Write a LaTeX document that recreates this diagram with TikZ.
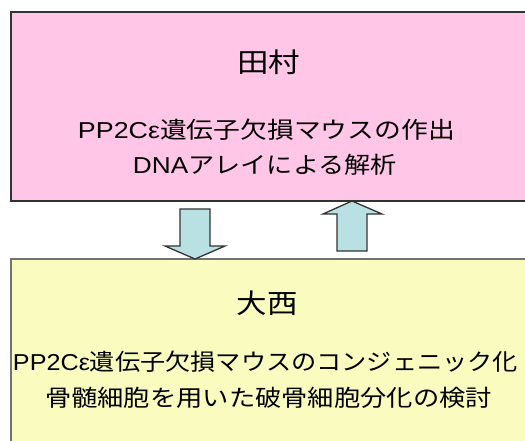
\documentclass[tikz,border=0pt]{standalone}
\usepackage{fontspec}
\usepackage{graphicx}
\newfontfamily\jp{Noto Sans CJK JP}
\newfontfamily\lat{Liberation Sans}
\definecolor{pinkfill}{RGB}{255,198,232}
\definecolor{yelfill}{RGB}{249,252,190}
\definecolor{arrfill}{RGB}{185,224,226}
\newcommand{\fitw}[2]{\resizebox{#1}{\height}{#2}}
\tikzset{
  box/.style={line width=1.3pt},
  blockarrow/.style={fill=arrfill, draw=black!80, line width=1.3pt, line join=miter},
  title/.style={inner sep=0pt, font=\jp\fontsize{27}{27}\selectfont},
  body/.style={inner sep=0pt, font=\jp\fontsize{23}{23}\selectfont},
}
\begin{document}
\begin{tikzpicture}[x=1pt,y=-1pt]
\clip (0,0) rectangle (525,441);
\fill[white] (0,0) rectangle (525,441);
% boxes
\filldraw[box, fill=pinkfill, draw=black!80] (11,12) rectangle (545,201);
\filldraw[box, fill=yelfill, draw=black!55] (11,259) rectangle (545,460);
% arrows
\draw[blockarrow] (180,209) -- (210,209) -- (210,246) -- (225,246) -- (195,259) -- (165,246) -- (180,246) -- cycle;
\draw[blockarrow] (337,251) -- (367,251) -- (367,214) -- (382,214) -- (352,201) -- (323,214) -- (337,214) -- cycle;
% texts
\node[title] (t1) at (268.5,62) {\fitw{63pt}{田村}};
\node[body] (a1) at (266.5,130) {\fitw{377pt}{{\lat PP2Cε}遺伝子欠損マウスの作出}};
\node[body] (a2) at (265,165) {\fitw{264pt}{{\lat DNA}アレイによる解析}};
\node[title] (t2) at (267,303) {\fitw{61pt}{大西}};
\node[body] (b1) at (265.5,362) {\fitw{505pt}{{\lat PP2Cε}遺伝子欠損マウスのコンジェニック化}};
\node[body] (b2) at (268.5,398) {\fitw{447pt}{骨髄細胞を用いた破骨細胞分化の検討}};
\end{tikzpicture}
\end{document}
